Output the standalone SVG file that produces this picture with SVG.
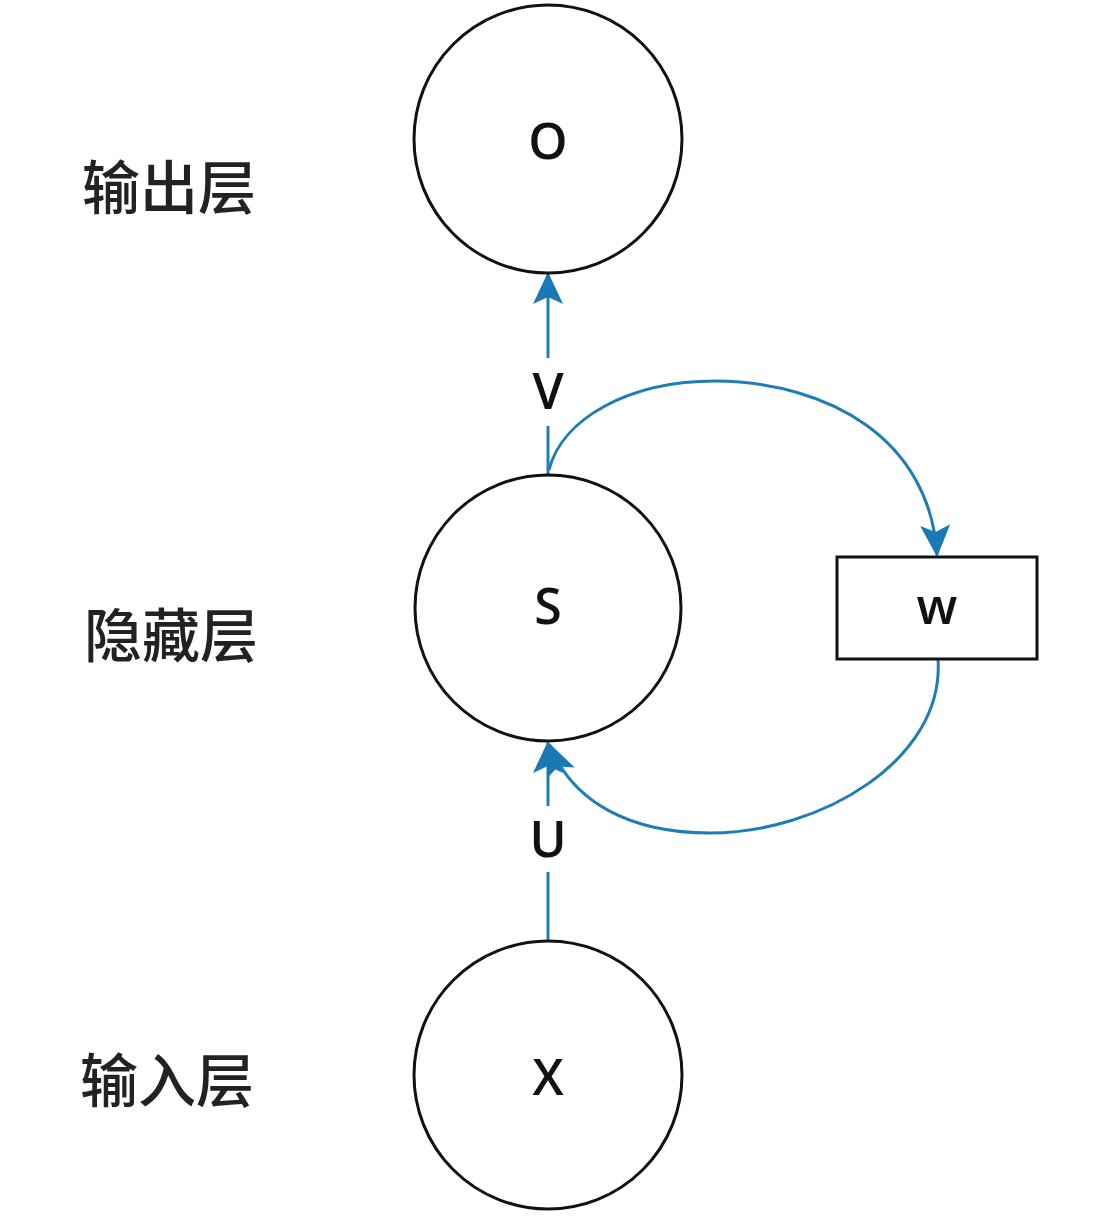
<svg xmlns="http://www.w3.org/2000/svg" width="1098" height="1228" viewBox="0 0 1098 1228">
<style>
.node{fill:#fff;stroke:#111;stroke-width:3}
.lbl{font-family:"Open Sans","Liberation Sans",sans-serif;font-size:50px;font-weight:600;fill:#111;text-anchor:middle;dominant-baseline:central}
.cn{font-family:"Noto Sans CJK SC",sans-serif;font-size:58px;font-weight:500;fill:#222;text-anchor:start;dominant-baseline:central}
.edge{fill:none;stroke:#1f7db5;stroke-width:3}
</style>
<defs>
<marker id="ah" markerWidth="32" markerHeight="30" refX="30" refY="15" orient="auto" markerUnits="userSpaceOnUse" viewBox="0 0 32 30">
<path d="M0,0 L32,15 L0,30 L7,15 z" fill="#1a78b4"/>
</marker>
</defs>
<rect width="1098" height="1228" fill="#fff"/>
<g id="labels">
<text class="cn" x="82" y="184">输出层</text>
<text class="cn" x="84" y="632">隐藏层</text>
<text class="cn" x="80" y="1077">输入层</text>
</g>
<g id="connectors">
<path class="edge" d="M548,475 L548,426"/>
<path class="edge" d="M548,358 L548,274" marker-end="url(#ah)"/>
<path class="edge" d="M548,940 L548,872"/>
<path class="edge" d="M548,806 L548,743" marker-end="url(#ah)"/>
<path class="edge" d="M549,470 C562,418 630,381 715,381 C830,382 930,440 937,555" marker-end="url(#ah)"/>
<path class="edge" d="M938,659 C945,760 820,833 710,833 C630,833 572,802 550,745" marker-end="url(#ah)"/>
<text class="lbl" x="548" y="390">V</text>
<text class="lbl" x="548" y="838">U</text>
</g>
<g id="node-o">
<circle class="node" cx="548" cy="139" r="134"/>
<text class="lbl" x="548" y="140">O</text>
</g>
<g id="node-s">
<circle class="node" cx="548" cy="608" r="133"/>
<text class="lbl" x="548" y="605">S</text>
</g>
<g id="node-x">
<circle class="node" cx="548" cy="1075" r="134"/>
<text class="lbl" x="548" y="1076">X</text>
</g>
<g id="node-w">
<rect class="node" x="837" y="557" width="200" height="102"/>
<text class="lbl" x="937" y="605">w</text>
</g>
</svg>
